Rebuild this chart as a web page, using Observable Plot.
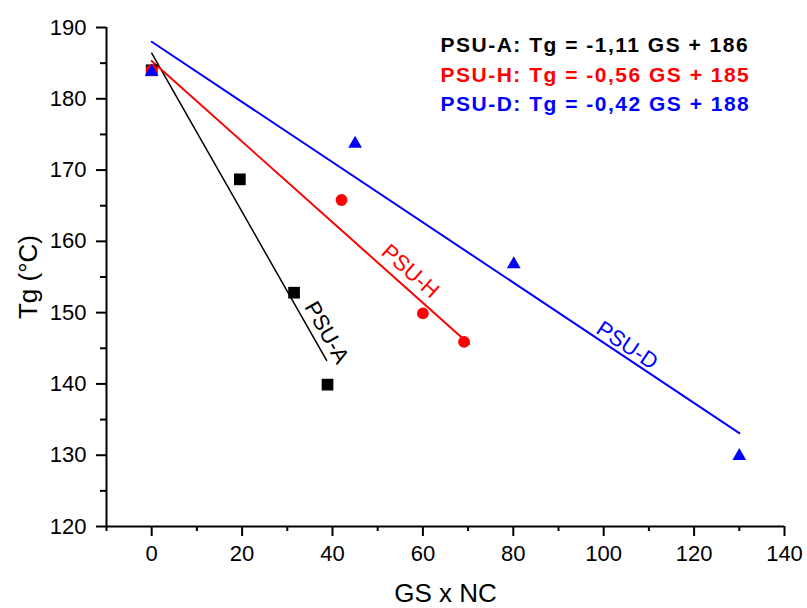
<!DOCTYPE html>
<html>
<head>
<meta charset="utf-8">
<script src="https://cdn.jsdelivr.net/npm/d3@7"></script>
<script src="https://cdn.jsdelivr.net/npm/@observablehq/plot@0.6"></script>
<style>
  html, body { margin: 0; padding: 0; background: #fff; }
  #chart { width: 807px; height: 608px; }
</style>
</head>
<body>
<div id="chart"></div>
<script>
// ---- data ----
const seriesNames = ["PSU-A", "PSU-H", "PSU-D"];
const seriesColors = ["#000000", "#ff0000", "#0000ff"];
const seriesSymbols = ["square", "circle", "triangle"];

const gsA = [0, 19.5, 31.5, 38.9];
const tgA = [184.0, 168.7, 152.8, 139.9];
const gsH = [0, 42.0, 60.0, 69.1];
const tgH = [184.0, 165.8, 149.9, 145.9];
const gsD = [0, 45.0, 80.1, 130.0];
const tgD = [183.8, 173.7, 156.8, 129.9];

// fitted lines (end points)
const fitAx = [0, 38.7], fitAy = [186.4, 143.3];
const fitHx = [0, 70.2], fitHy = [185.3, 145.6];
const fitDx = [0, 130.0], fitDy = [188.0, 133.1];

const equations = [
  "PSU-A: Tg = -1,11 GS + 186",
  "PSU-H: Tg = -0,56 GS + 185",
  "PSU-D: Tg = -0,42 GS + 188"
];

// in-line labels: anchor in data units and rotation
const labelGS = [38.7, 57.2, 105.2];
const labelTg = [147.2, 155.8, 145.4];
const labelAngle = [60.5, 41.6, 33.7];

const xDomain = [-10, 140];
const yDomain = [120, 190];
const xMajor = [0, 20, 40, 60, 80, 100, 120, 140];
const xMinor = [-10, 10, 30, 50, 70, 90, 110, 130];
const yMajor = [120, 130, 140, 150, 160, 170, 180, 190];
const yMinor = [125, 135, 145, 155, 165, 175, 185];
const xLabel = "GS x NC";
const yLabel = "Tg (°C)";

// ---- build tables ----
const gsAll = [gsA, gsH, gsD], tgAll = [tgA, tgH, tgD];
const points = seriesNames.flatMap((s, i) => gsAll[i].map((g, j) => ({series: s, i, gs: g, tg: tgAll[i][j]})));
const fx = [fitAx, fitHx, fitDx], fy = [fitAy, fitHy, fitDy];
const fits = seriesNames.flatMap((s, i) => fx[i].map((g, j) => ({series: s, i, gs: g, tg: fy[i][j]})));
const lineWidths = [1.5, 2, 2];

const marks = [];
// axes lines
marks.push(Plot.ruleY([yDomain[0]], {stroke: "#000", strokeWidth: 2}));
marks.push(Plot.ruleX([xDomain[0]], {stroke: "#000", strokeWidth: 2}));
marks.push(Plot.axisX({ticks: xMajor, tickSize: 10, tickPadding: 9, strokeWidth: 2, fontSize: 22, label: null, tickFormat: d => String(d), color: "#000"}));
marks.push(Plot.axisX({ticks: xMinor, tickSize: 5, strokeWidth: 2, text: null, label: null}));
marks.push(Plot.axisY({ticks: yMajor, tickSize: 10, tickPadding: 10, strokeWidth: 2, fontSize: 22, label: null, tickFormat: d => String(d), color: "#000"}));
marks.push(Plot.axisY({ticks: yMinor, tickSize: 6, strokeWidth: 2, text: null, label: null}));

// fitted lines
seriesNames.forEach((s, i) => {
  marks.push(Plot.line(fits.filter(d => d.i === i), {x: "gs", y: "tg", stroke: seriesColors[i], strokeWidth: lineWidths[i]}));
});
// points
const symbolR = [6.6, 5.9, 5.1];
seriesNames.forEach((s, i) => {
  marks.push(Plot.dot(points.filter(d => d.i === i), {x: "gs", y: "tg", symbol: () => seriesSymbols[i], fill: seriesColors[i], stroke: "none", r: symbolR[i]}));
});
// in-line labels
seriesNames.forEach((s, i) => {
  marks.push(Plot.text([s], {x: () => labelGS[i], y: () => labelTg[i], text: d => d, rotate: labelAngle[i], fill: seriesColors[i], fontSize: 22, textAnchor: "middle", lineAnchor: "middle"}));
});
// equations
const eqDy = [18, 48, 77];
equations.forEach((e, i) => {
  marks.push(Plot.text([e], {frameAnchor: "top-left", dx: 334, dy: eqDy[i], text: d => d, fill: seriesColors[i], fontSize: 21, fontWeight: "bold", textAnchor: "start", lineAnchor: "middle"}));
});
// axis titles
marks.push(Plot.text([xLabel], {frameAnchor: "bottom", dy: 57, text: d => d, fontSize: 26, textAnchor: "middle", lineAnchor: "top", fill: "#000"}));
marks.push(Plot.text([yLabel], {frameAnchor: "left", dx: -78, rotate: -90, text: d => d, fontSize: 26, textAnchor: "middle", lineAnchor: "middle", fill: "#000"}));

const chart = Plot.plot({
  width: 807,
  height: 608,
  marginLeft: 106,
  marginRight: 23,
  marginTop: 27,
  marginBottom: 82,
  x: {domain: xDomain},
  y: {domain: yDomain},
  symbol: {domain: seriesSymbols, range: seriesSymbols},
  style: {fontFamily: "'Liberation Sans', Arial, sans-serif", fontSize: "22px", color: "#000", background: "#fff", overflow: "visible"},
  marks
});
chart.querySelectorAll("text").forEach(t => {
  if (/^PSU-.: Tg/.test(t.textContent)) t.setAttribute("letter-spacing", "1.5");
});
document.getElementById("chart").appendChild(chart);
</script>
</body>
</html>
